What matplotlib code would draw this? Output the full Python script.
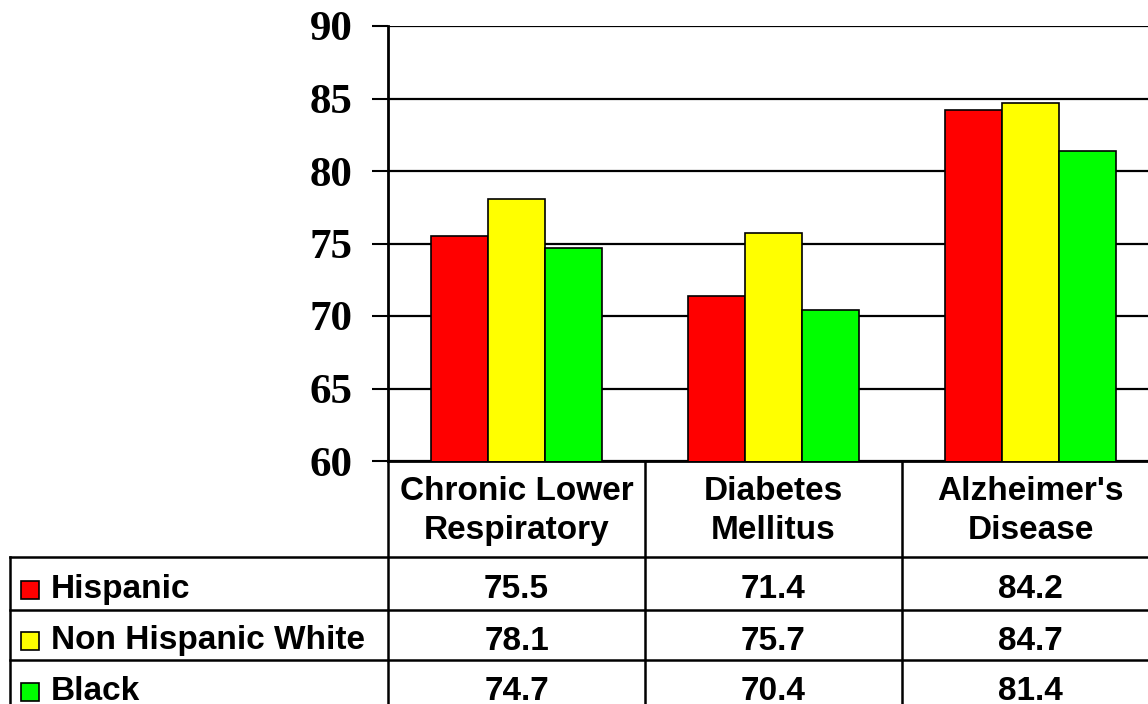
import numpy as np
import matplotlib.pyplot as plt
from matplotlib.patches import Rectangle
from matplotlib.lines import Line2D
from matplotlib.transforms import blended_transform_factory

# data
categories = ["Chronic Lower\nRespiratory", "Diabetes\nMellitus", "Alzheimer's\nDisease"]
groups = ["Hispanic", "Non Hispanic White", "Black"]
hispanic = [75.5, 71.4, 84.2]
nh_white = [78.1, 75.7, 84.7]
black = [74.7, 70.4, 81.4]
colors = ["#ff0000", "#ffff00", "#00ff00"]

W, H = 1148, 704
fig = plt.figure(figsize=(W / 100, H / 100), dpi=100)

# axes: left spine at x=388px, 60 at y=461px, 90 at y=26px, 257px per category
cat_w = 257
ax = fig.add_axes([388 / W, 1 - 461 / H, 3 * cat_w / W, (461 - 26) / H])

x = np.arange(len(categories))
bw = 0.222
for i, vals in enumerate([hispanic, nh_white, black]):
    ax.bar(x + (i - 1) * bw, vals, bw, color=colors[i], edgecolor="black",
           linewidth=1.2, zorder=3)

ax.set_xlim(-0.5, 2.5)
ax.set_ylim(60, 90)
ax.set_yticks(range(60, 91, 5))
ax.set_xticks([])
ax.yaxis.grid(True, color="black", linewidth=1.6, zorder=0)
for lbl in ax.get_yticklabels():
    lbl.set_fontfamily("Liberation Serif")
    lbl.set_fontweight("bold")
    lbl.set_fontsize(31)
ax.tick_params(axis="y", length=11.5, width=1.5, pad=14)
for s in ["top", "right"]:
    ax.spines[s].set_visible(False)
ax.spines["left"].set_linewidth(2)
ax.spines["bottom"].set_linewidth(2)

# data table under the axes
bt = blended_transform_factory(ax.transData, fig.transFigure)
def fy(py):
    return 1 - py / H

row_lines = [557, 610, 660, 712]
lw = 1.8
# vertical column lines
for xc in [-0.5, 0.5, 1.5, 2.5]:
    ax.add_line(Line2D([xc, xc], [fy(461), fy(712)], transform=bt, color="black",
                       lw=lw, clip_on=False))
# left border of row label column
fig.add_artist(Line2D([10 / W, 10 / W], [fy(557), fy(712)], color="black", lw=lw))
# horizontal row lines
for py in row_lines:
    fig.add_artist(Line2D([10 / W, 1.0], [fy(py), fy(py)], color="black", lw=lw))

tfont = dict(family="Liberation Sans", fontweight="bold", fontsize=24)
# header
for i, c in enumerate(categories):
    ax.text(x[i], fy(511), c, transform=bt, ha="center", va="center",
            linespacing=1.3, clip_on=False, **tfont)

# rows
for r, (g, vals) in enumerate(zip(groups, [hispanic, nh_white, black])):
    yc = fy((row_lines[r] + row_lines[r + 1]) / 2 + 6)
    fig.add_artist(Rectangle((21 / W, yc - 9 / H), 18 / W, 18 / H,
                             facecolor=colors[r], edgecolor="black", lw=1.2,
                             transform=fig.transFigure))
    fig.text(51 / W, yc, g, ha="left", va="center", **tfont)
    for i, v in enumerate(vals):
        ax.text(x[i], yc, f"{v:.1f}", transform=bt, ha="center", va="center",
                clip_on=False, **tfont)

fig.savefig("out.png", dpi=100)
